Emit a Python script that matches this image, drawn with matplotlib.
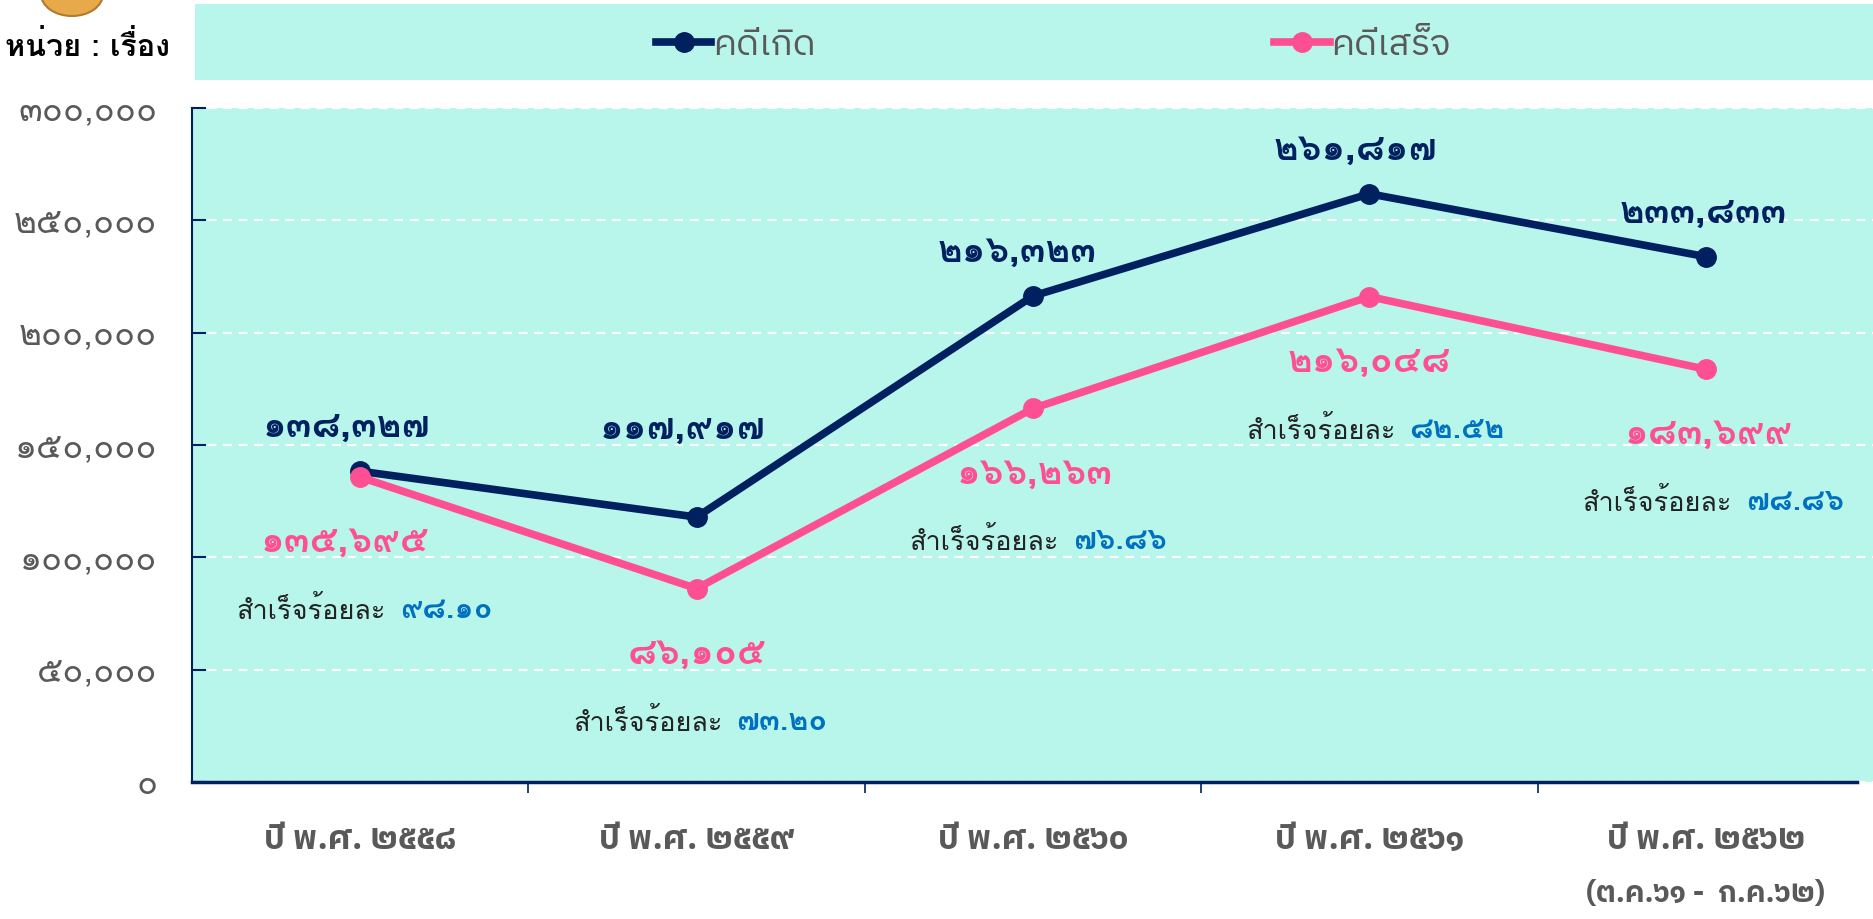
import matplotlib
matplotlib.use("Agg")
import matplotlib.pyplot as plt
from matplotlib.patches import Rectangle, Ellipse
from matplotlib.transforms import ScaledTranslation

# --- dati ---
years = ["ปี พ.ศ. ๒๕๕๘", "ปี พ.ศ. ๒๕๕๙", "ปี พ.ศ. ๒๕๖๐", "ปี พ.ศ. ๒๕๖๑", "ปี พ.ศ. ๒๕๖๒"]
last_period = "(ต.ค.๖๑ -  ก.ค.๖๒)"
cases_in = [138327, 117917, 216323, 261817, 233833]
cases_done = [135695, 86105, 166263, 216048, 183699]
labels_in = ["๑๓๘,๓๒๗", "๑๑๗,๙๑๗", "๒๑๖,๓๒๓", "๒๖๑,๘๑๗", "๒๓๓,๘๓๓"]
labels_done = ["๑๓๕,๖๙๕", "๘๖,๑๐๕", "๑๖๖,๒๖๓", "๒๑๖,๐๔๘", "๑๘๓,๖๙๙"]
pct_done = ["๙๘.๑๐", "๗๓.๒๐", "๗๖.๘๖", "๘๒.๕๒", "๗๘.๘๖"]
yticks = [0, 50000, 100000, 150000, 200000, 250000, 300000]
ytick_labels = ["๐", "๕๐,๐๐๐", "๑๐๐,๐๐๐", "๑๕๐,๐๐๐", "๒๐๐,๐๐๐", "๒๕๐,๐๐๐", "๓๐๐,๐๐๐"]

# spostamenti delle etichette (pixel)
off_in = [(-14, 44), (-14, 88), (-16, 44), (-14, 44), (-3, 44)]
off_done = [(-15, -65), (0, -65), (2, -65), (0, -65), (3, -65)]

# colori
navy = "#002060"
pink = "#FF4F93"
blue = "#0070C0"
bg = "#B8F5EA"
grey = "#595959"

LOMA = ["Loma", "DejaVu Sans"]
PLEX = ["IBM Plex Sans Thai", "DejaVu Sans"]

fig = plt.figure(figsize=(18.74, 9.19), dpi=100)
W, H = 1874, 919

# banda legenda
fig.patches.append(Rectangle((195 / W, 1 - 80 / H), 1 - 195 / W, 76 / H,
                             transform=fig.transFigure, facecolor=bg, edgecolor="none"))
# logo (pezzo di moneta in alto)
fig.patches.append(Ellipse((72 / W, 1 + 6 / H), 62 / W, 44 / H, transform=fig.transFigure,
                           facecolor="#E8A94A", edgecolor="#B07A2A", lw=1.5))

fig.text(5 / W, 1 - 47 / H, "หน่วย : เรื่อง", family=LOMA, weight="bold",
         fontsize=22, va="center", ha="left", color="black")

ax = fig.add_axes([192 / W, 1 - 782 / H, 1 - 192 / W, 674 / H])
ax.set_facecolor(bg)
x = list(range(len(years)))

l1, = ax.plot(x, cases_in, color=navy, lw=5.5, marker="o", ms=14, zorder=4, label="คดีเกิด")
l2, = ax.plot(x, cases_done, color=pink, lw=5.5, marker="o", ms=14, zorder=5, label="คดีเสร็จ")

ax.set_xlim(-0.5, 4.5)
ax.set_ylim(0, 300000)
ax.set_yticks(yticks)
ax.set_yticklabels(ytick_labels, family=LOMA, fontsize=25, color=grey)
shift = ScaledTranslation(0, -3 / 100, fig.dpi_scale_trans)
for lab in ax.get_yticklabels():
    lab.set_transform(lab.get_transform() + shift)
ax.set_xticks([i + 0.5 for i in x[:-1]], minor=False)
ax.set_xticklabels([])
ax.set_xticks(x, minor=True)
ax.set_xticklabels(years, minor=True, family=PLEX, weight="bold", fontsize=24,
                   color=grey, va="top")
ax.tick_params(axis="x", which="minor", length=0, pad=30)
ax.tick_params(axis="x", which="major", length=8, width=1.2, color=navy, direction="out")
ax.tick_params(axis="y", length=10, width=1.5, color=navy, direction="in", pad=25)

# seconda riga dell'ultimo anno
ax.annotate(last_period, (x[-1], 0), xycoords=("data", "axes fraction"),
            xytext=(0, -112), textcoords="offset pixels", ha="center", va="center",
            family=PLEX, weight="bold", fontsize=21, color=grey, annotation_clip=False)

ax.grid(axis="y", color="white", lw=1.6, ls=(0, (4, 3)))
ax.set_axisbelow(True)
for s in ["top", "right"]:
    ax.spines[s].set_visible(False)
ax.spines["left"].set_color(navy)
ax.spines["left"].set_linewidth(1.5)
ax.spines["bottom"].set_color(navy)
ax.spines["bottom"].set_linewidth(2.5)
ax.spines["bottom"].set_bounds(-0.5, 4.45)

# etichette dei valori
for i in x:
    ax.annotate(labels_in[i], (i, cases_in[i]), xytext=off_in[i],
                textcoords="offset pixels", ha="center", va="center", family=LOMA,
                weight="bold", fontsize=27, color=navy)
    ax.annotate(labels_done[i], (i, cases_done[i]), xytext=off_done[i],
                textcoords="offset pixels", ha="center", va="center", family=LOMA,
                weight="bold", fontsize=27, color=pink)
    ax.annotate("สำเร็จร้อยละ", (i, cases_done[i]), xytext=(26, -133),
                textcoords="offset pixels", ha="right", va="center", family=LOMA,
                fontsize=19.5, color="#222222")
    ax.annotate(pct_done[i], (i, cases_done[i]), xytext=(40, -133),
                textcoords="offset pixels", ha="left", va="center", family=LOMA,
                weight="bold", fontsize=22, color=blue)

fig.legend(handles=[l1, l2], loc="center left", bbox_to_anchor=(656 / W, 1 - 45 / H),
           ncol=2, frameon=False, handlelength=1.53, handletextpad=0.05,
           columnspacing=12.7, prop={"family": PLEX, "size": 26}, labelcolor=grey,
           borderaxespad=0, borderpad=0)

fig.savefig("out.png", dpi=100)
